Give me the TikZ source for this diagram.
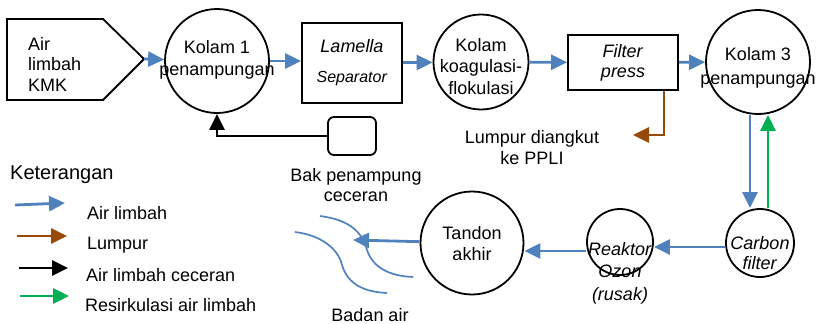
\documentclass[tikz,border=0pt]{standalone}
\usepackage{fontspec}
\setmainfont{Liberation Sans}
\usetikzlibrary{arrows.meta,positioning}

\definecolor{airblue}{RGB}{79,129,189}
\definecolor{lumpurbrown}{RGB}{152,72,7}
\definecolor{resgreen}{RGB}{0,176,80}

\begin{document}
\begin{tikzpicture}[x=1pt,y=-1pt,font=\fontsize{18}{22}\selectfont]
   \tikzstyle{unit}=[draw,circle,line width=1.8pt,inner sep=0pt]
   \tikzstyle{box}=[draw,rectangle,line width=1.8pt,align=center,inner sep=0pt]
   \tikzstyle{txt}=[align=center,inner sep=0pt]
   \tikzstyle{ket}=[anchor=west,inner sep=0pt]
   \tikzstyle{tip}=[-{Triangle[length=16pt,width=15pt]}]
   \tikzstyle{air}=[tip,draw=airblue,line width=2.8pt]
   \tikzstyle{lumpur}=[tip,draw=lumpurbrown,line width=2.8pt]
   \tikzstyle{ceceran}=[tip,draw=black,line width=2.8pt]
   \tikzstyle{resirk}=[tip,draw=resgreen,line width=2.8pt]
   \tikzstyle{river}=[draw=airblue,line width=1.7pt]

   \useasboundingbox (0,0) rectangle (820,324);

   % inlet
   \coordinate (src) at (144,59);
   \draw [line width=1.8pt] (7,19) -- (103,19) -- (src) -- (103,100) -- (7,100) -- cycle;
   \node (srct) [ket,align=left,font=\fontsize{18}{20.5}\selectfont] at (28,64) {Air\\limbah\\KMK};

   % upper row
   \node (k1) [unit,minimum size=104pt] at (217,61) {};
   \node (k1t) [txt] at (217,60) {Kolam 1\\penampungan};
   \node (lam) [box,minimum width=100pt,minimum height=80pt] at (352,63)
      {\textit{Lamella}\\[8pt]{\fontsize{16}{18}\selectfont\textit{Separator}}};
   \node (k2) [unit,minimum size=95pt] at (481,62) {};
   \node (k2t) [txt,font=\fontsize{18}{21.5}\selectfont] at (481,66.5) {Kolam\\koagulasi-\\flokulasi};
   \node (fp) [box,minimum width=110pt,minimum height=55pt,font=\fontsize{18}{20}\selectfont] at (623,62.5)
      {\textit{Filter}\\\textit{press}};
   \node (k3) [unit,minimum size=104pt] at (758,62) {};
   \node (k3t) [txt,font=\fontsize{18}{24}\selectfont] at (758,67.5) {Kolam 3\\penampungan};

   % spill tank
   \node (bak) [draw,rounded corners=6pt,line width=1.8pt,minimum width=48pt,minimum height=38pt] at (352,136) {};
   \node (bakt) [txt,font=\fontsize{18}{20}\selectfont] at (356,185) {Bak penampung\\ceceran};
   \coordinate (lm) at (633,135);
   \node (lmt) [txt,font=\fontsize{18}{21}\selectfont] at (532,147.5) {Lumpur diangkut\\ke PPLI};

   % lower row
   \node (cf) [unit,minimum size=68pt] at (760,243) {};
   \node (cft) [txt,font=\fontsize{18}{20}\selectfont] at (760,253) {\textit{Carbon}\\\textit{filter}};
   \node (ro) [unit,minimum size=66pt] at (620,242) {};
   \node (rot) [txt,font=\fontsize{18}{22.5}\selectfont] at (620,273) {\textit{Reaktor}\\\textit{Ozon}\\\textit{(rusak)}};
   \node (td) [unit,minimum size=103pt] at (472,243) {};
   \node (tdt) [txt,font=\fontsize{18}{21}\selectfont] at (472,244) {Tandon\\akhir};
   \coordinate (river) at (353,240);
   \node (badan) [txt] at (370,315) {Badan air};

   % river banks
   \draw [river] (320,216) .. controls (350,220) and (362,232) .. (367,250)
      .. controls (373,268) and (390,276) .. (413,277);
   \draw [river] (295,232) .. controls (320,235) and (338,248) .. (342,265)
      .. controls (348,285) and (365,292) .. (387,293);

   % flows
   \draw [air] (src) -- (k1);
   \draw [air] (k1) -- (k1 -| lam.west);
   \draw [air] (lam) -- (k2);
   \draw [air] (k2) -- (fp);
   \draw [air] (fp) -- (k3);
   \draw [lumpur] ([xshift=-15pt]fp.south east) |- (lm);
   \draw [ceceran] (bak) -| (k1);
   \draw [air] ([xshift=-8pt]k3.south) -- ([xshift=-8pt]k3.south |- cf.north);
   \draw [resirk] ([xshift=8pt]cf.north) -- ([xshift=8pt]cf.north |- k3.south);
   \draw [air] ([yshift=-4pt]cf.west) -- ([yshift=-4pt]cf.west -| ro.east);
   \draw [air] ([yshift=-9pt]ro.west) -- ([yshift=-9pt]ro.west -| td.east);
   \draw [air] (td) -- (river);

   % legend
   \node (ket) [ket,font=\fontsize{20}{24}\selectfont] at (10,175) {Keterangan};
   \coordinate (la) at (15,205);  \coordinate (lb) at (65,203);
   \coordinate (ma) at (17,236);  \coordinate (mb) at (67,236);
   \coordinate (na) at (19,268);  \coordinate (nb) at (68,268);
   \coordinate (oa) at (20,296);  \coordinate (ob) at (69,296);
   \draw [air] (la) -- (lb);
   \draw [lumpur] (ma) -- (mb);
   \draw [ceceran] (na) -- (nb);
   \draw [resirk] (oa) -- (ob);
   \node (ket1) [ket] at (87,213) {Air limbah};
   \node (ket2) [ket] at (87,245) {Lumpur};
   \node (ket3) [ket] at (86,275) {Air limbah ceceran};
   \node (ket4) [ket] at (85,305) {Resirkulasi air limbah};
\end{tikzpicture}
\end{document}
